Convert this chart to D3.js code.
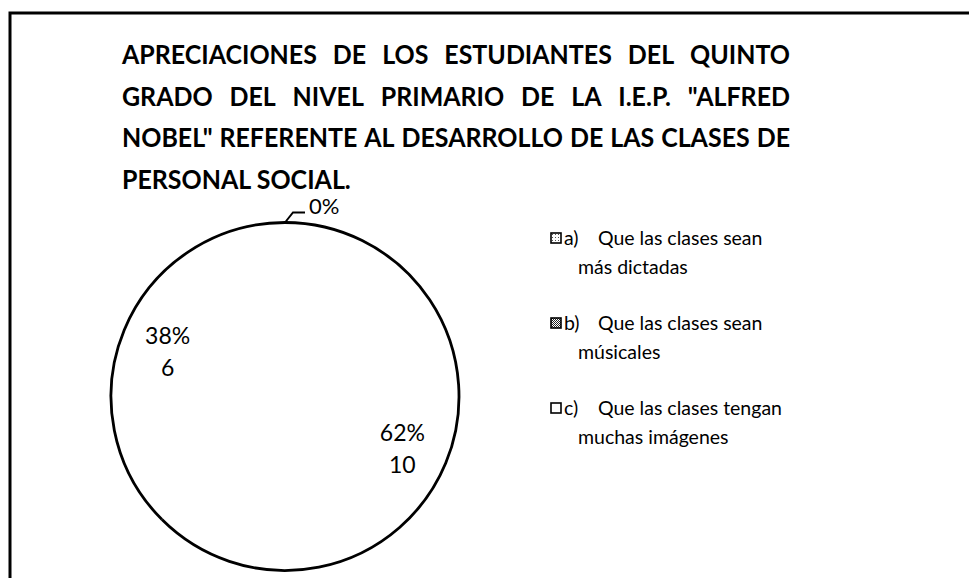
<!DOCTYPE html>
<html>
<head>
<meta charset="utf-8">
<script src="https://cdn.jsdelivr.net/npm/d3@7"></script>
<style>
  body { margin: 0; background: #fff; }
  text { font-family: Lato, "Open Sans", sans-serif; fill: #000; }
</style>
</head>
<body>
<svg id="chart" width="969" height="578"></svg>
<script>
// chart data
var titleLines = [
    "APRECIACIONES DE LOS ESTUDIANTES DEL QUINTO",
    "GRADO DEL NIVEL PRIMARIO DE LA I.E.P. \"ALFRED",
    "NOBEL\" REFERENTE AL DESARROLLO DE LAS CLASES DE",
    "PERSONAL SOCIAL."
];
var categories = ["a)", "b)", "c)"];
var legendText = [
    ["Que las clases sean", "más dictadas"],
    ["Que las clases sean", "músicales"],
    ["Que las clases tengan", "muchas imágenes"]
];
var values = [0, 10, 6];
var percentLabels = ["0%", "62%", "38%"];

var svg = d3.select("#chart"),
    width = +svg.attr("width"),
    height = +svg.attr("height");

// patterns for the legend keys
var defs = svg.append("defs");
var pa = defs.append("pattern").attr("id", "pat0")
    .attr("width", 3).attr("height", 3).attr("patternUnits", "userSpaceOnUse");
pa.append("rect").attr("width", 3).attr("height", 3).attr("fill", "#fff");
pa.append("rect").attr("width", 1).attr("height", 1).attr("fill", "#555");
var pb = defs.append("pattern").attr("id", "pat1")
    .attr("width", 2).attr("height", 2).attr("patternUnits", "userSpaceOnUse");
pb.append("rect").attr("width", 2).attr("height", 2).attr("fill", "#fff");
pb.append("rect").attr("width", 1).attr("height", 1).attr("fill", "#222");
pb.append("rect").attr("x", 1).attr("y", 1).attr("width", 1).attr("height", 1).attr("fill", "#222");
var fills = ["url(#pat0)", "url(#pat1)", "#fff"];

// frame (only top and left edges visible in the scan)
svg.append("path")
    .attr("d", "M10," + height + "V13H" + width)
    .attr("fill", "none")
    .attr("stroke", "#000")
    .attr("stroke-width", 3);

// title, justified like the original text box
// Lato is wider than the original font, so squeeze it horizontally
var titleX = 122, titleW = 668, titleY = 64, titleStep = 41.5, fontSize = 26;
var title = svg.append("g").attr("font-weight", "bold").attr("font-size", fontSize);

var probe = title.append("text").text(titleLines[2]);
var sx = Math.min(1, titleW / (probe.node().getComputedTextLength() + fontSize * 0.3));
probe.remove();

titleLines.forEach(function (line, i) {
    var y = titleY + i * titleStep;
    var words = line.split(" ");
    var row = title.append("text")
        .attr("transform", "translate(" + titleX + "," + y + ") scale(" + sx + ",1)");
    var spans = words.map(function (w) {
        return row.append("tspan").attr("y", 0).text(w);
    });
    var widths = spans.map(function (s) { return s.node().getComputedTextLength(); });
    var total = d3.sum(widths);
    var gap = fontSize * 0.22;
    if (i < titleLines.length - 1) gap = (titleW / sx - total) / (words.length - 1);
    var x = 0;
    spans.forEach(function (s, j) {
        s.attr("x", x);
        x += widths[j] + gap;
    });
});

// pie
var cx = 285, cy = 396.5, r = 174;
var pie = d3.pie().sort(null).value(function (d) { return d; });
var arcs = pie(values);
var arc = d3.arc().innerRadius(0).outerRadius(r);
var rim = d3.arc().innerRadius(r).outerRadius(r);
var labelArc = d3.arc().innerRadius(r * 0.73).outerRadius(r * 0.73);

var g = svg.append("g").attr("transform", "translate(" + cx + "," + cy + ")");

g.selectAll("path.slice")
    .data(arcs)
    .enter().append("path")
    .attr("class", "slice")
    .attr("d", arc)
    .attr("fill", "#fff")
    .attr("stroke", "none");

g.selectAll("path.rim")
    .data(arcs.filter(function (d) { return d.value > 0; }))
    .enter().append("path")
    .attr("class", "rim")
    .attr("d", rim)
    .attr("fill", "none")
    .attr("stroke", "#000")
    .attr("stroke-width", 2.8);

// data labels
var labels = g.selectAll("text.lbl")
    .data(arcs.filter(function (d) { return d.value > 0; }))
    .enter().append("text")
    .attr("class", "lbl")
    .attr("font-size", 23)
    .attr("text-anchor", "middle")
    .attr("transform", function (d) {
        var c = labelArc.centroid(d);
        return "translate(" + c[0] + "," + (c[1] - 4) + ")";
    });
labels.append("tspan").attr("x", 0).attr("dy", 0)
    .text(function (d) { return percentLabels[d.index]; });
labels.append("tspan").attr("x", 0).attr("dy", 32)
    .text(function (d) { return d.value; });

// zero slice gets a leader line
arcs.filter(function (d) { return d.value === 0; }).forEach(function (d) {
    var a = d.startAngle;
    var p0 = [r * Math.sin(a), -r * Math.cos(a)];
    var p1 = [p0[0] + 8, p0[1] - 10];
    var p2 = [p1[0] + 12, p1[1]];
    g.append("path")
        .attr("d", d3.line()([p0, p1, p2]))
        .attr("fill", "none")
        .attr("stroke", "#000")
        .attr("stroke-width", 2);
    g.append("text")
        .attr("x", p2[0] + 4)
        .attr("y", p2[1] + 1)
        .attr("font-size", 22)
        .text(percentLabels[d.index]);
});

// legend
var legendX = 551, legendY = 238, legendStep = 85, lineStep = 29;
var legend = svg.append("g").attr("font-size", 19.5);
categories.forEach(function (c, i) {
    var y = legendY + i * legendStep;
    legend.append("rect")
        .attr("x", legendX).attr("y", y - 5)
        .attr("width", 10).attr("height", 10)
        .attr("fill", fills[i])
        .attr("stroke", "#000")
        .attr("stroke-width", 1.6);
    legend.append("text").attr("x", legendX + 13).attr("y", y + 7).text(c);
    legend.append("text").attr("x", legendX + 47).attr("y", y + 7).text(legendText[i][0]);
    legend.append("text").attr("x", legendX + 27).attr("y", y + 7 + lineStep).text(legendText[i][1]);
});
</script>
</body>
</html>
